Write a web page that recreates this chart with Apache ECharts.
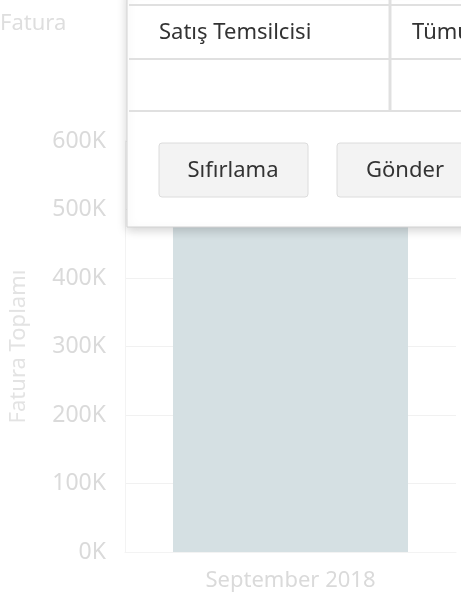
<!DOCTYPE html>
<html>
<head>
<meta charset="utf-8">
<script src="https://cdn.jsdelivr.net/npm/echarts@6/dist/echarts.min.js"></script>
<style>
  html, body { margin: 0; padding: 0; background: #fff; }
  #chart { width: 461px; height: 608px; }
</style>
</head>
<body>
<div id="chart"></div>
<script>
  // data
  const categories = ["September 2018"];
  const faturaToplami = [540000];
  const yTicks = [0, 100000, 200000, 300000, 400000, 500000, 600000];

  // filter panel texts (popup over the chart)
  const panelRowLabels = ["Satış Temsilcisi"];
  const panelRowValues = ["Tümü"];
  const panelButtons = ["Sıfırlama", "Gönder"];

  const fontFamily = "'Noto Sans', 'Open Sans', sans-serif";
  const chart = echarts.init(document.getElementById("chart"));

  const buildPanel = () => {
    const lineColor = "#e0e0e0";
    return [
      // panel body with shadow
      {
        type: "rect",
        z: 100,
        shape: { x: 127, y: -10, width: 400, height: 237 },
        style: {
          fill: "#fff",
          stroke: "#d2d2d2",
          lineWidth: 1,
          shadowBlur: 10,
          shadowOffsetY: 3,
          shadowColor: "rgba(0,0,0,0.18)",
        },
      },
      // table lines
      { type: "line", z: 101, shape: { x1: 129, y1: 5, x2: 470, y2: 5 }, style: { stroke: lineColor, lineWidth: 2 } },
      { type: "line", z: 101, shape: { x1: 129, y1: 59, x2: 470, y2: 59 }, style: { stroke: lineColor, lineWidth: 2 } },
      { type: "line", z: 101, shape: { x1: 129, y1: 111, x2: 470, y2: 111 }, style: { stroke: lineColor, lineWidth: 2 } },
      { type: "line", z: 101, shape: { x1: 390, y1: -10, x2: 390, y2: 111 }, style: { stroke: lineColor, lineWidth: 3 } },
      {
        type: "text",
        z: 102,
        x: 159,
        y: 33,
        style: { text: panelRowLabels[0], fill: "#333", font: "22px " + fontFamily, verticalAlign: "middle" },
      },
      {
        type: "text",
        z: 102,
        x: 412,
        y: 33,
        style: { text: panelRowValues[0], fill: "#333", font: "22px " + fontFamily, verticalAlign: "middle" },
      },
      // buttons
      {
        type: "rect",
        z: 101,
        shape: { x: 159, y: 143, width: 149, height: 54, r: 3 },
        style: { fill: "#f3f3f3", stroke: "#dcdcdc", lineWidth: 1 },
      },
      {
        type: "text",
        z: 102,
        x: 233,
        y: 171,
        style: { text: panelButtons[0], fill: "#333", font: "22px " + fontFamily, align: "center", verticalAlign: "middle" },
      },
      {
        type: "rect",
        z: 101,
        shape: { x: 337, y: 143, width: 136, height: 54, r: 3 },
        style: { fill: "#f3f3f3", stroke: "#dcdcdc", lineWidth: 1 },
      },
      {
        type: "text",
        z: 102,
        x: 405,
        y: 171,
        style: { text: panelButtons[1], fill: "#333", font: "22px " + fontFamily, align: "center", verticalAlign: "middle" },
      },
    ];
  };

  const option = {
    animation: false,
    textStyle: { fontFamily },
    title: {
      text: "Fatura",
      left: -5,
      top: 8,
      textStyle: { color: "#dedede", fontSize: 22, fontWeight: "normal", fontFamily },
    },
    grid: {
      left: 125,
      right: 5,
      top: 141,
      bottom: 56,
    },
    xAxis: {
      type: "category",
      data: categories,
      axisLine: { show: true, lineStyle: { color: "#f3f3f3" } },
      axisTick: { show: false },
      axisLabel: { color: "#dadada", fontSize: 22, margin: 18 },
    },
    yAxis: {
      type: "value",
      min: yTicks[0],
      max: yTicks[yTicks.length - 1],
      interval: yTicks[1] - yTicks[0],
      name: "Fatura Toplamı",
      nameLocation: "middle",
      nameGap: 95,
      nameTextStyle: { color: "#e3e3e3", fontSize: 22 },
      axisLine: { show: true, lineStyle: { color: "#f3f3f3" } },
      axisTick: { show: false },
      axisLabel: {
        color: "#dadada",
        fontSize: 23,
        margin: 19,
        formatter: v => v / 1000 + "K",
      },
      splitLine: { show: true, lineStyle: { color: "#f1f1f1" } },
    },
    series: [
      {
        type: "bar",
        data: faturaToplami,
        barWidth: "71%",
        itemStyle: { color: "#d5e0e3" },
      },
    ],
    graphic: buildPanel(),
  };

  chart.setOption(option);
</script>
</body>
</html>
